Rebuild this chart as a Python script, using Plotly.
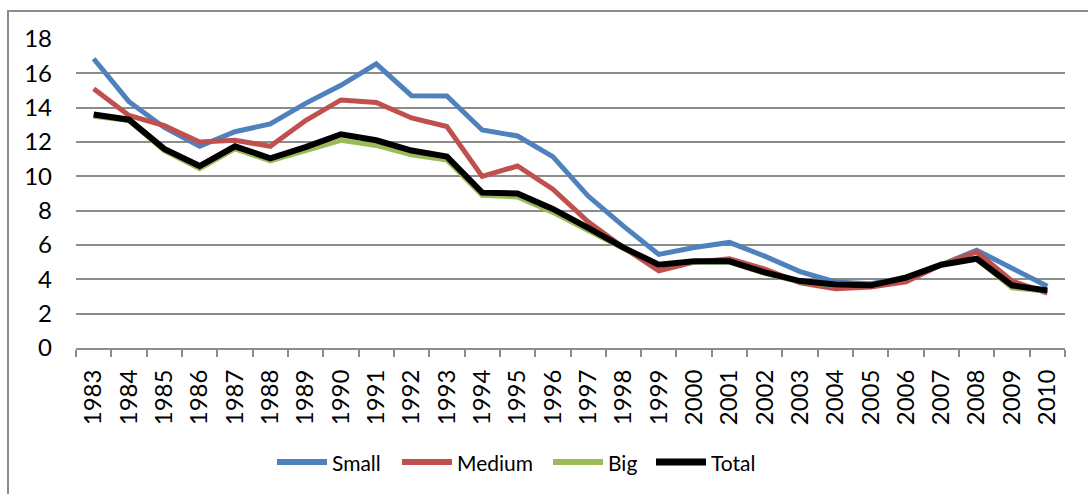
import plotly.graph_objects as go

years = [str(y) for y in range(1983, 2011)]

small = [16.85, 14.35, 12.85, 11.75, 12.6, 13.05, 14.25, 15.3, 16.55, 14.7, 14.68,
         12.7, 12.35, 11.15, 8.85, 7.1, 5.45, 5.85, 6.15, 5.35, 4.45, 3.85, 3.75,
         4.1, 4.85, 5.7, 4.65, 3.6]
medium = [15.1, 13.55, 12.95, 12.0, 12.1, 11.75, 13.25, 14.45, 14.3, 13.4, 12.9,
          10.0, 10.6, 9.25, 7.35, 5.85, 4.5, 5.0, 5.2, 4.6, 3.8, 3.45, 3.55,
          3.85, 4.85, 5.6, 3.9, 3.2]
big = [13.5, 13.25, 11.5, 10.45, 11.6, 10.9, 11.5, 12.1, 11.8, 11.25, 10.95,
       8.9, 8.8, 7.9, 6.85, 5.8, 4.85, 5.0, 5.0, 4.35, 3.85, 3.65, 3.65,
       4.15, 4.9, 5.2, 3.5, 3.3]
total = [13.6, 13.3, 11.6, 10.6, 11.75, 11.05, 11.7, 12.45, 12.1, 11.5, 11.15,
         9.05, 9.0, 8.1, 7.0, 5.85, 4.85, 5.05, 5.05, 4.4, 3.9, 3.7, 3.65,
         4.1, 4.85, 5.2, 3.65, 3.35]

series = [
    ("Small", small, "#4F81BD", 5),
    ("Medium", medium, "#C0504D", 5),
    ("Big", big, "#9BBB59", 5),
    ("Total", total, "#000000", 6),
]

# left edge (px) of each legend entry's line sample
legend_x = [277, 402, 553, 656]
LEGEND_Y = 462
SAMPLE_LEN = 50

FONT = "Lato"
GRID = "#8C8C8C"

fig = go.Figure()
for name, vals, color, width in series:
    fig.add_trace(go.Scatter(
        x=years, y=vals, name=name, mode="lines",
        line=dict(color=color, width=width),
        showlegend=False,
    ))

# plot area spans x 76..1065, y 39..348 in a 1088x494 page
L, R, T, B = 76, 23, 39, 146
pw, ph = 1088 - L - R, 494 - T - B


def px_x(p):
    return (p - L) / pw


def px_y(p):
    return (T + ph - p) / ph


shapes = [dict(
    type="rect", xref="paper", yref="paper",
    x0=px_x(8), x1=px_x(1100), y0=px_y(11), y1=px_y(520),
    line=dict(color=GRID, width=2), fillcolor="rgba(0,0,0,0)",
    layer="below",
)]
annotations = []
for (name, _, color, width), lx in zip(series, legend_x):
    shapes.append(dict(
        type="line", xref="paper", yref="paper",
        x0=px_x(lx), x1=px_x(lx + SAMPLE_LEN),
        y0=px_y(LEGEND_Y), y1=px_y(LEGEND_Y),
        line=dict(color=color, width=width + 1),
    ))
    annotations.append(dict(
        xref="paper", yref="paper",
        x=px_x(lx + SAMPLE_LEN + 3), y=px_y(LEGEND_Y),
        xanchor="left", yanchor="middle",
        text=name, showarrow=False,
        font=dict(size=21, family=FONT, color="#000000"),
    ))

fig.update_layout(
    width=1088, height=494,
    margin=dict(l=L, r=R, t=T, b=B),
    paper_bgcolor="white", plot_bgcolor="white",
    font=dict(family=FONT, color="#000000"),
    showlegend=False,
    xaxis=dict(
        type="category",
        tickson="boundaries",
        ticks="outside", ticklen=7, tickwidth=2, tickcolor=GRID,
        showline=True, linecolor=GRID, linewidth=2,
        showgrid=False, zeroline=False,
        tickangle=-90,
        ticklabelstandoff=10,
        tickfont=dict(size=24, family=FONT),
        range=[-0.5, len(years) - 0.5],
        fixedrange=True,
    ),
    yaxis=dict(
        range=[0, 18], dtick=2, tick0=0,
        showgrid=True, gridcolor=GRID, gridwidth=2,
        zeroline=False, showline=False,
        ticks="", ticklabelstandoff=23,
        tickfont=dict(size=24, family=FONT),
        fixedrange=True,
    ),
    shapes=shapes,
    annotations=annotations,
)

fig.write_html("out.html")
